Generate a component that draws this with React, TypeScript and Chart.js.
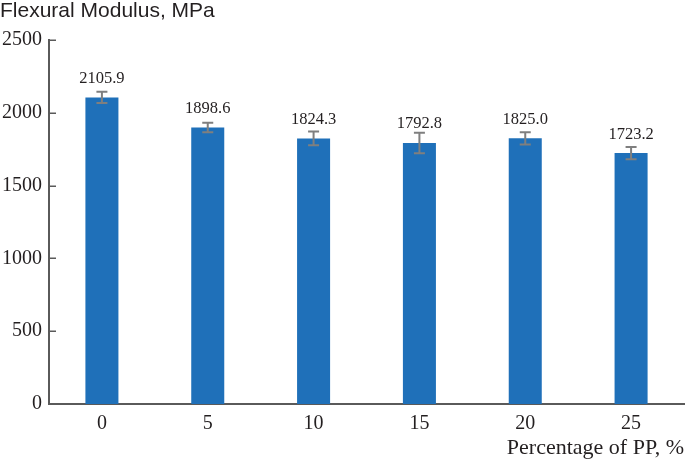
import React, { useEffect, useRef } from "react";
import { Chart, registerables } from "chart.js";

Chart.register(...registerables);

const categories = ["0", "5", "10", "15", "20", "25"];
const modulus = [2105.9, 1898.6, 1824.3, 1792.8, 1825.0, 1723.2];
const errors = [38, 33, 48, 71, 42, 42];
const yMin = 0;
const yMax = 2500;
const yStep = 500;
const yTitle = "Flexural Modulus, MPa";
const xTitle = "Percentage of PP, %";

const axisColor = "#5a5a5a";
const textColor = "#231f20";
const barColor = "#1f70b9";
const errColor = "#7f7f7f";

const overlayPlugin = {
  id: "overlay",
  afterDatasetsDraw(chart: any) {
    const ctx = chart.ctx;
    const yScale = chart.scales.y;
    const meta = chart.getDatasetMeta(0);
    ctx.save();
    // error bars
    meta.data.forEach((el: any, i: number) => {
      const v = modulus[i];
      const e = errors[i];
      const x = el.x;
      const yt = yScale.getPixelForValue(v + e);
      const yb = yScale.getPixelForValue(v - e);
      ctx.strokeStyle = errColor;
      ctx.lineWidth = 2;
      ctx.beginPath();
      ctx.moveTo(x, yt);
      ctx.lineTo(x, yb);
      ctx.moveTo(x - 5.5, yt);
      ctx.lineTo(x + 5.5, yt);
      ctx.moveTo(x - 5.5, yb);
      ctx.lineTo(x + 5.5, yb);
      ctx.stroke();
    });
    // value labels
    ctx.fillStyle = textColor;
    ctx.font = '16.5px "Liberation Serif"';
    ctx.textAlign = "center";
    ctx.textBaseline = "alphabetic";
    meta.data.forEach((el: any, i: number) => {
      ctx.fillText(modulus[i].toFixed(1), el.x, el.y - 14.5);
    });
    ctx.restore();
  },
  afterDraw(chart: any) {
    const ctx = chart.ctx;
    const yScale = chart.scales.y;
    const left = chart.chartArea.left;
    ctx.save();
    ctx.strokeStyle = axisColor;
    ctx.lineWidth = 1.5;
    ctx.beginPath();
    yScale.ticks.forEach((t: any) => {
      const y = Math.round(yScale.getPixelForValue(t.value)) + 0.25;
      ctx.moveTo(left, y);
      ctx.lineTo(left + 7, y);
    });
    ctx.stroke();
    ctx.restore();
  },
};

export default function App() {
  const ref = useRef<HTMLCanvasElement>(null);
  useEffect(() => {
    if (!ref.current) return;
    const chart = new Chart(ref.current, {
      type: "bar",
      data: {
        labels: categories,
        datasets: [
          {
            data: modulus,
            backgroundColor: barColor,
            borderWidth: 0,
            categoryPercentage: 1,
            barPercentage: 0.312,
          },
        ],
      },
      options: {
        responsive: false,
        animation: false,
        layout: { padding: { left: 0, right: 1, top: 0, bottom: 0 } },
        plugins: {
          legend: { display: false },
          tooltip: { enabled: false },
          title: {
            display: true,
            text: yTitle,
            align: "start",
            color: textColor,
            font: { family: '"Liberation Sans"', size: 21, weight: "normal", lineHeight: 1 },
            padding: { top: 1, bottom: 18 },
          },
        },
        scales: {
          x: {
            grid: { display: false, drawTicks: false },
            border: { display: true, color: axisColor, width: 2 },
            ticks: {
              color: textColor,
              font: { family: '"Liberation Serif"', size: 20 },
              padding: 8,
            },
            title: {
              display: true,
              text: xTitle,
              align: "end",
              color: textColor,
              font: { family: '"Liberation Serif"', size: 22 },
              padding: { top: 0, bottom: 1 },
            },
            afterFit: (s: any) => {
              s.height = 58;
            },
          },
          y: {
            min: yMin,
            max: yMax,
            grid: { display: false, drawTicks: false },
            border: { display: true, color: axisColor, width: 2 },
            ticks: {
              stepSize: yStep,
              color: textColor,
              font: { family: '"Liberation Serif"', size: 20 },
              padding: 7,
              callback: (v: any) => String(v),
            },
            afterFit: (s: any) => {
              s.width = 49;
            },
          },
        },
      },
      plugins: [overlayPlugin],
    });
    return () => chart.destroy();
  }, []);
  return (
    <div style={{ position: "fixed", left: 0, top: 0, width: 685, height: 462, background: "#fff" }}>
      <canvas ref={ref} width={685} height={462} />
    </div>
  );
}
